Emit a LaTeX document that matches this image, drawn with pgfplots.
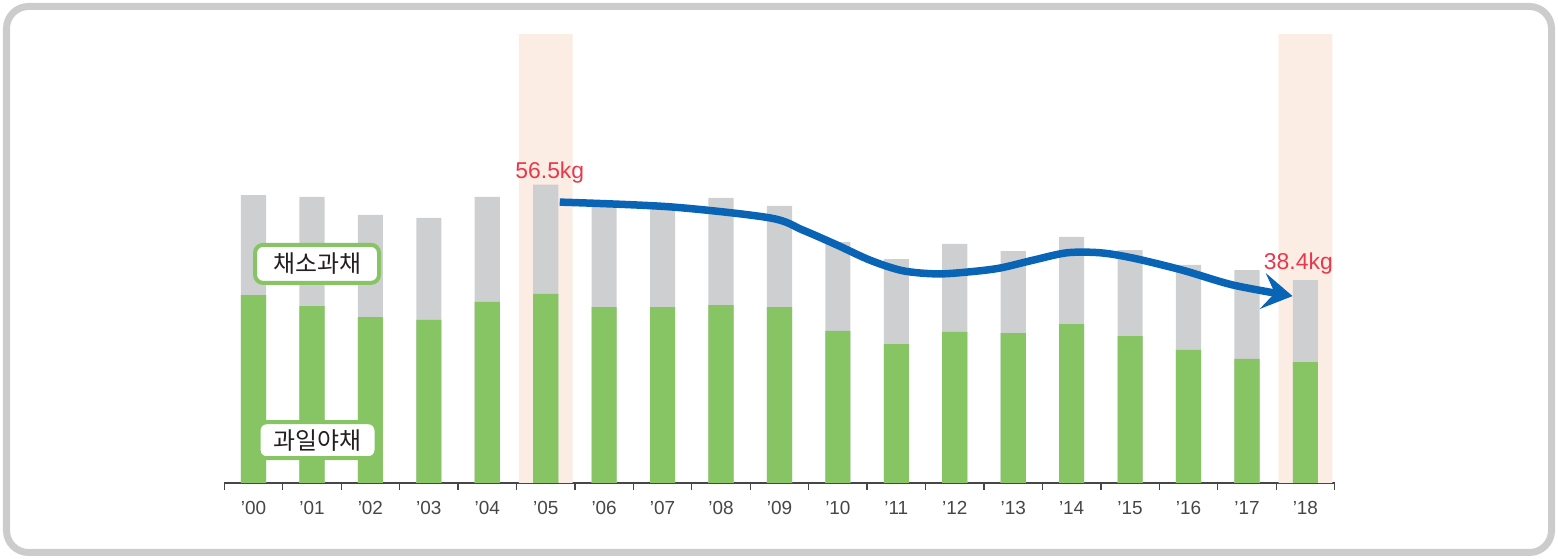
\documentclass[border=0pt]{standalone}
\usepackage{pgfplots}
\pgfplotsset{compat=1.18}
\usepackage{pgfplotstable}
\usepackage{fontspec}
\setmainfont{Liberation Sans}
\newfontfamily\kr{Noto Sans CJK KR}
\usetikzlibrary{arrows.meta}

\definecolor{barGreen}{RGB}{134,196,100}
\definecolor{barGray}{RGB}{206,207,209}
\definecolor{bandPeach}{RGB}{251,236,228}
\definecolor{frameGray}{RGB}{204,204,204}
\definecolor{axisGray}{RGB}{70,70,70}
\definecolor{arrowBlue}{RGB}{10,100,182}
\definecolor{kgRed}{RGB}{232,56,76}
\definecolor{boxGreen}{RGB}{134,196,100}

% year index, fruit-vegetables (green), total (green + gray)
\pgfplotstableread{
x  fruit  total
0  35.6   54.5
1  33.5   54.2
2  31.4   50.8
3  30.9   50.2
4  34.3   54.2
5  35.8   56.5
6  33.3   53.2
7  33.3   52.3
8  33.7   54.0
9  33.3   52.5
10 28.8   45.6
11 26.3   42.4
12 28.6   45.3
13 28.4   43.9
14 30.1   46.6
15 27.8   44.1
16 25.2   41.3
17 23.5   40.3
18 22.9   38.4
}\consumption

\begin{document}
\begin{tikzpicture}[x=1bp,y=1bp]
\useasboundingbox (0,0) rectangle (1558,559);
\draw[frameGray, line width=7bp, rounded corners=22bp] (6.5,6.5) rectangle (1551.5,552.5);

\begin{axis}[
  at={(224.3bp,76bp)}, anchor=south west,
  scale only axis,
  width=1110.3bp, height=448.8bp,
  xmin=-0.5, xmax=18.5,
  ymin=0, ymax=85,
  clip=false,
  axis x line*=bottom,
  axis y line=none,
  axis line style={-, draw=axisGray, line width=1.5bp},
  xtick={0,...,18},
  xticklabels={’00,’01,’02,’03,’04,’05,’06,’07,’08,’09,’10,’11,’12,’13,’14,’15,’16,’17,’18},
  major x tick style={draw=none},
  major tick length=0pt,
  minor xtick={-0.5,0.5,...,18.5},
  minor tick length=7bp,
  tick align=outside,
  minor x tick style={draw=axisGray, line width=1.3bp},
  xticklabel style={font=\fontsize{19}{21}\selectfont, text=axisGray, anchor=base, yshift=-32bp},
]
% highlighted years
\addplot[ybar, bar width=0.92, fill=bandPeach, draw=none] coordinates {(5,85) (18,85)};
% totals (gray) and fruit vegetables (green)
\addplot[ybar, bar width=0.43, fill=barGray, draw=none] table[x=x, y=total] {\consumption};
\addplot[ybar, bar width=0.43, fill=barGreen, draw=none] table[x=x, y=fruit] {\consumption};

% trend arrow
\addplot[arrowBlue, line width=7.5bp, smooth,
  -{Stealth[length=30bp, width=36bp, inset=12bp]}] coordinates {
  (5.24,53.2) (7.13,52.3) (8.84,50.2) (9.40,47.9) (9.98,45.1)
  (10.55,42.2) (11.11,40.2) (11.70,39.6) (12.26,40.0) (12.77,40.7)
  (13.34,42.2) (13.92,43.6) (14.49,43.6) (15.05,42.6) (15.90,40.3)
  (16.76,37.5) (17.78,35.4)
};

\node[text=kgRed, font=\fontsize{23}{25}\selectfont] at (axis cs:5.07,58.7) {56.5kg};
\node[text=kgRed, font=\fontsize{23}{25}\selectfont] at (axis cs:17.88,41.5) {38.4kg};

\node[draw=boxGreen, line width=4bp, fill=white, rounded corners=8bp,
  minimum width=124bp, minimum height=38bp, inner sep=0pt,
  font=\kr\fontsize{24}{26}\selectfont, text={rgb,255:red,35;green,31;blue,32}]
  at (axis cs:1.087,41.5) {채소과채};
\node[draw=boxGreen, line width=4bp, fill=white, rounded corners=8bp,
  minimum width=118bp, minimum height=36bp, inner sep=0pt,
  font=\kr\fontsize{24}{26}\selectfont, text={rgb,255:red,35;green,31;blue,32}]
  at (axis cs:1.095,8.1) {과일야채};
\end{axis}
\end{tikzpicture}
\end{document}
